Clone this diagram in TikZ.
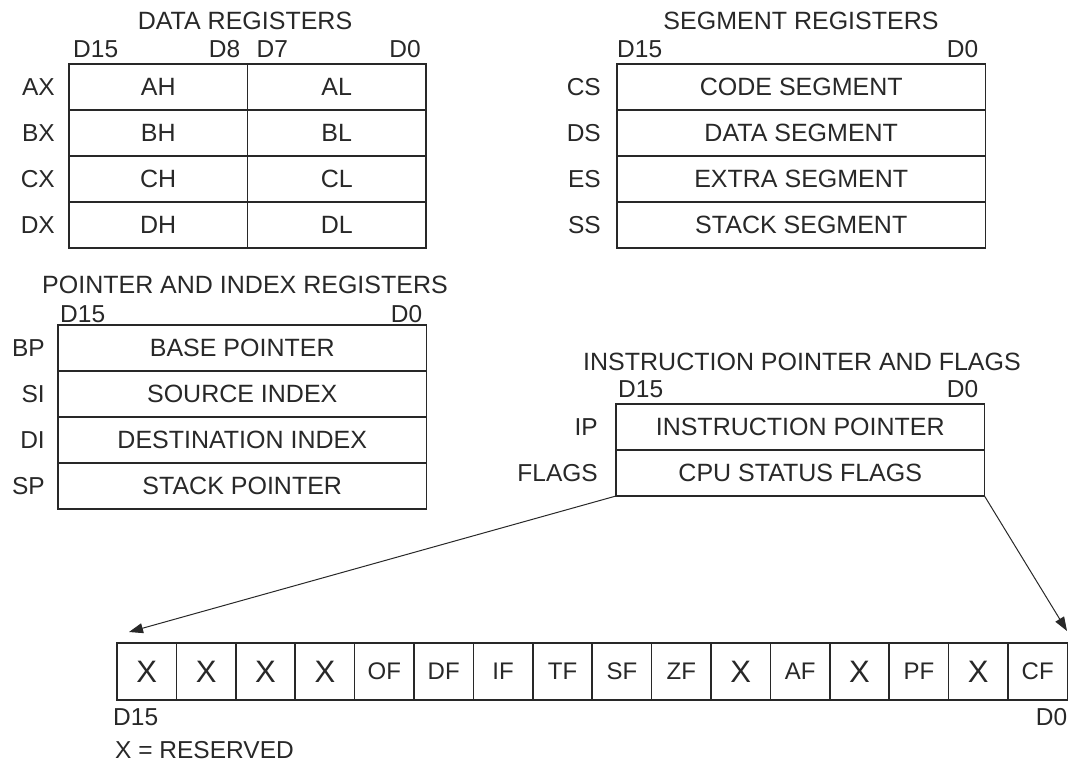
\documentclass[tikz,border=0pt]{standalone}
\usepackage{fontspec}
\setmainfont{Liberation Sans}
\usetikzlibrary{arrows.meta, positioning}
\definecolor{RegInk}{RGB}{40,40,40}

\begin{document}
\begin{tikzpicture}[
    x=1pt, y=-1pt,
    reg/.style={draw=RegInk, line width=1.5pt, outer sep=0pt, inner sep=0pt,
                minimum height=46pt, text=RegInk, font=\fontsize{25}{29}\selectfont},
    half/.style={reg, minimum width=178.5pt},
    full/.style={reg, minimum width=368.5pt},
    flag/.style={reg, minimum width=59.4pt, minimum height=57pt, font=\fontsize{24}{28}\selectfont},
    xflag/.style={flag, font=\fontsize{31}{35}\selectfont},
    rname/.style={text=RegInk, inner sep=0pt, font=\fontsize{24.5}{28}\selectfont},
    hdr/.style={rname, font=\fontsize{25}{29}\selectfont},
    bit/.style={rname},
    arrow/.style={-{Triangle[length=14pt, width=10pt]}, line width=1pt, color=RegInk},
]
\useasboundingbox (0,0) rectangle (1068,770);

% data registers
\node[hdr] (dtitle) at (245,21) {DATA REGISTERS};
\node[half, anchor=north west] (ah) at (69,64) {AH};
\node[half, right=0pt of ah] (al) {AL};
\node[half, below=0pt of ah] (bh) {BH};
\node[half, below=0pt of al] (bl) {BL};
\node[half, below=0pt of bh] (ch) {CH};
\node[half, below=0pt of bl] (cl) {CL};
\node[half, below=0pt of ch] (dh) {DH};
\node[half, below=0pt of cl] (dl) {DL};
\node[rname, left=14pt of ah] (ax) {AX};
\node[rname, left=14pt of bh] (bx) {BX};
\node[rname, left=14pt of ch] (cx) {CX};
\node[rname, left=14pt of dh] (dx) {DX};
\node[bit, above right=6pt and 4pt of ah.north west] (d15a) {D15};
\node[bit, above left=6pt and 7pt of ah.north east] (d8a) {D8};
\node[bit, above right=6pt and 9pt of al.north west] (d7a) {D7};
\node[bit, above left=6pt and 5pt of al.north east] (d0a) {D0};

% segment registers
\node[hdr] (stitle) at (801,21) {SEGMENT REGISTERS};
\node[full, anchor=north west] (cs) at (617,64) {CODE SEGMENT};
\node[full, below=0pt of cs] (ds) {DATA SEGMENT};
\node[full, below=0pt of ds] (es) {EXTRA SEGMENT};
\node[full, below=0pt of es] (ss) {STACK SEGMENT};
\node[rname, left=16pt of cs] (lcs) {CS};
\node[rname, left=16pt of ds] (lds) {DS};
\node[rname, left=16pt of es] (les) {ES};
\node[rname, left=16pt of ss] (lss) {SS};
\node[bit, above right=6pt and 0pt of cs.north west] (d15s) {D15};
\node[bit, above left=6pt and 7pt of cs.north east] (d0s) {D0};

% pointer and index registers
\node[hdr] (ptitle) at (245,285) {POINTER AND INDEX REGISTERS};
\node[full, anchor=north west] (bp) at (58,325) {BASE POINTER};
\node[full, below=0pt of bp] (si) {SOURCE INDEX};
\node[full, below=0pt of si] (di) {DESTINATION INDEX};
\node[full, below=0pt of di] (sp) {STACK POINTER};
\node[rname, left=13pt of bp] (lbp) {BP};
\node[rname, left=13pt of si] (lsi) {SI};
\node[rname, left=13pt of di] (ldi) {DI};
\node[rname, left=13pt of sp] (lsp) {SP};
\node[bit, above right=2pt and 2pt of bp.north west] (d15p) {D15};
\node[bit, above left=2pt and 4pt of bp.north east] (d0p) {D0};

% instruction pointer and flags
\node[hdr] (ititle) at (802,362) {INSTRUCTION POINTER AND FLAGS};
\node[full, anchor=north west] (ip) at (616,404) {INSTRUCTION POINTER};
\node[full, below=0pt of ip] (fl) {CPU STATUS FLAGS};
\node[rname, left=18pt of ip] (lip) {IP};
\node[rname, left=18pt of fl] (lfl) {FLAGS};
\node[bit, above right=6pt and 2pt of ip.north west] (d15i) {D15};
\node[bit, above left=6pt and 6pt of ip.north east] (d0i) {D0};

% flag bits
\node[xflag, anchor=north west] (b15) at (117,643) {X};
\node[xflag, right=0pt of b15] (b14) {X};
\node[xflag, right=0pt of b14] (b13) {X};
\node[xflag, right=0pt of b13] (b12) {X};
\node[flag, right=0pt of b12] (b11) {OF};
\node[flag, right=0pt of b11] (b10) {DF};
\node[flag, right=0pt of b10] (b9) {IF};
\node[flag, right=0pt of b9] (b8) {TF};
\node[flag, right=0pt of b8] (b7) {SF};
\node[flag, right=0pt of b7] (b6) {ZF};
\node[xflag, right=0pt of b6] (b5) {X};
\node[flag, right=0pt of b5] (b4) {AF};
\node[xflag, right=0pt of b4] (b3) {X};
\node[flag, right=0pt of b3] (b2) {PF};
\node[xflag, right=0pt of b2] (b1) {X};
\node[flag, right=0pt of b1] (b0) {CF};
\node[bit, below right=8pt and -4pt of b15.south west] (d15f) {D15};
\node[bit, below left=8pt and 0pt of b0.south east] (d0f) {D0};
\node[bit, below right=16pt and 2pt of d15f.south west] (resv) {X = RESERVED};

\coordinate (lt) at (129,632);
\coordinate (rt) at (1067,631);
\draw[arrow] (fl.south west) -- (lt);
\draw[arrow] (fl.south east) -- (rt);
\end{tikzpicture}
\end{document}
